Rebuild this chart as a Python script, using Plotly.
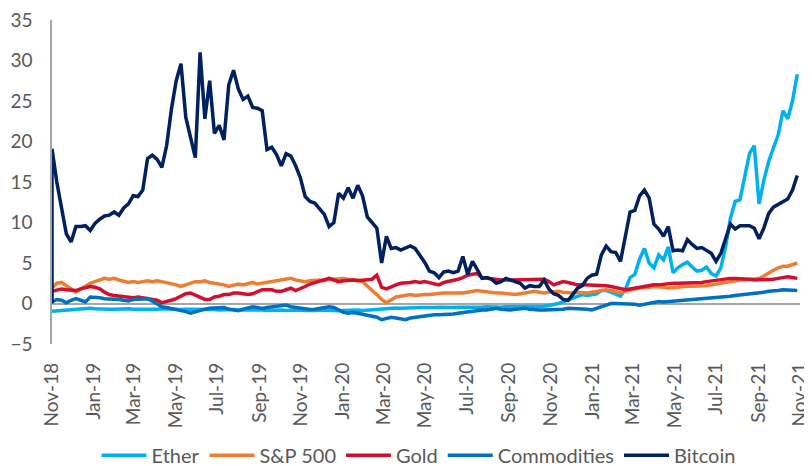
import pandas as pd
import plotly.graph_objects as go

# Weekly observations, Nov 2018 - Oct 2021 (157 weeks)
dates = pd.date_range("2018-11-01", periods=157, freq="7D")

ether = [
    -0.95, -0.9, -0.9, -0.85, -0.85, -0.8, -0.7, -0.6, -0.6, -0.65,
    -0.7, -0.75, -0.7, -0.7, -0.65, -0.6, -0.65, -0.7, -0.75, -0.7,
    -0.7, -0.75, -0.7, -0.65, -0.7, -0.75, -0.8, -0.75, -0.7, -0.7,
    -0.75, -0.7, -0.65, -0.7, -0.75, -0.8, -0.75, -0.7, -0.75, -0.8,
    -0.8, -0.75, -0.7, -0.75, -0.8, -0.85, -0.8, -0.75, -0.8, -0.85,
    -0.8, -0.75, -0.8, -0.85, -0.9, -0.85, -0.8, -0.85, -0.9, -0.95,
    -0.9, -0.85, -0.8, -0.75, -0.8, -0.85, -0.8, -0.75, -0.7, -0.65,
    -0.6, -0.55, -0.55, -0.6, -0.55, -0.5, -0.55, -0.5, -0.5, -0.55,
    -0.5, -0.45, -0.5, -0.55, -0.5, -0.45, -0.5, -0.45, -0.45, -0.5,
    -0.45, -0.4, -0.45, -0.4, -0.45, -0.4, -0.4, -0.45, -0.4, -0.4,
    -0.4, -0.4, -0.4, -0.35, -0.25, -0.15, 0.0, 0.2, 0.4, 0.6,
    0.9, 1.1, 1.0, 1.1, 1.2, 1.6, 1.6, 1.4, 1.1, 0.9,
    1.7, 3.2, 3.6, 5.5, 6.8, 5.0, 4.4, 6.0, 5.4, 7.0,
    3.8, 4.4, 4.8, 5.1, 4.5, 4.0, 4.1, 4.5, 3.7, 3.4,
    4.4, 7.0, 10.5, 12.6, 12.8, 15.5, 18.5, 19.5, 12.3, 15.2,
    17.5, 19.2, 20.8, 23.8, 22.8, 25.0, 28.3,
]

sp500 = [
    1.9, 2.5, 2.6, 2.2, 1.9, 1.4, 1.8, 2.2, 2.5, 2.7,
    2.9, 3.1, 3.0, 3.1, 2.9, 2.8, 2.6, 2.7, 2.6, 2.7,
    2.8, 2.7, 2.8, 2.7, 2.6, 2.4, 2.3, 2.1, 2.3, 2.6,
    2.7, 2.7, 2.8, 2.6, 2.5, 2.5, 2.3, 2.1, 2.2, 2.4,
    2.3, 2.5, 2.6, 2.4, 2.5, 2.5, 2.6, 2.7, 2.9, 3.0,
    3.1, 2.9, 2.8, 2.7, 2.8, 2.9, 2.9, 2.8, 3.0, 3.0,
    3.1, 3.1, 3.0, 3.0, 2.9, 2.7, 2.1, 1.6, 1.1, 0.5,
    0.1, 0.4, 0.8, 0.9, 1.0, 1.1, 1.0, 1.1, 1.1, 1.1,
    1.2, 1.2, 1.3, 1.3, 1.3, 1.2, 1.3, 1.4, 1.5, 1.6,
    1.5, 1.4, 1.3, 1.3, 1.3, 1.2, 1.2, 1.1, 1.2, 1.3,
    1.4, 1.5, 1.4, 1.3, 1.4, 1.5, 1.5, 1.4, 1.3, 1.3,
    1.4, 1.3, 1.3, 1.4, 1.5, 1.6, 1.7, 1.6, 1.4, 1.3,
    1.5, 1.7, 1.8, 1.9, 1.9, 2.0, 2.1, 2.1, 2.0, 1.9,
    1.9, 2.0, 2.1, 2.1, 2.1, 2.2, 2.2, 2.2, 2.3, 2.4,
    2.5, 2.7, 2.8, 2.8, 2.9, 2.9, 3.0, 3.0, 3.1, 3.4,
    3.8, 4.1, 4.4, 4.6, 4.6, 4.8, 5.0,
]

gold = [
    1.5, 1.7, 1.8, 1.7, 1.7, 1.6, 1.8, 1.9, 2.1, 2.0,
    1.8, 1.4, 1.1, 1.0, 0.9, 0.9, 0.8, 0.7, 0.8, 0.7,
    0.7, 0.5, 0.4, 0.1, 0.2, 0.4, 0.6, 0.9, 1.2, 1.3,
    1.0, 0.7, 0.5, 0.5, 0.8, 0.9, 1.1, 1.1, 1.3, 1.3,
    1.2, 1.1, 1.2, 1.5, 1.7, 1.7, 1.7, 1.5, 1.5, 1.7,
    1.9, 1.6, 1.8, 2.1, 2.4, 2.6, 2.8, 3.0, 3.1, 2.9,
    2.7, 2.8, 2.9, 2.9, 2.8, 2.9, 2.9, 3.0, 3.5, 2.0,
    1.8, 2.1, 2.3, 2.5, 2.5, 2.6, 2.7, 2.6, 2.7, 2.6,
    2.4, 2.3, 2.6, 2.7, 2.8, 3.0, 3.2, 3.5, 3.6, 3.7,
    3.2, 3.1, 3.0, 2.9, 2.9, 2.9, 2.9, 3.0, 2.9, 2.9,
    3.0, 2.9, 2.9, 3.0, 2.7, 2.3, 2.5, 2.7, 2.6, 2.4,
    2.3, 2.3, 2.3, 2.3, 2.3, 2.2, 2.2, 2.1, 2.0, 1.8,
    1.7, 1.8, 1.9, 2.1, 2.1, 2.2, 2.3, 2.3, 2.4, 2.4,
    2.5, 2.5, 2.5, 2.5, 2.5, 2.6, 2.6, 2.7, 2.8, 2.9,
    3.0, 3.1, 3.1, 3.1, 3.1, 3.0, 3.0, 2.9, 2.9, 3.0,
    3.0, 3.0, 3.1, 3.2, 3.3, 3.2, 3.1,
]

commodities = [
    0.2, 0.5, 0.4, 0.1, 0.4, 0.6, 0.4, 0.2, 0.8, 0.8,
    0.7, 0.6, 0.6, 0.5, 0.5, 0.4, 0.3, 0.5, 0.5, 0.5,
    0.6, 0.3, 0.0, -0.4, -0.5, -0.6, -0.8, -0.8, -1.0, -1.2,
    -1.0, -0.8, -0.7, -0.6, -0.6, -0.5, -0.5, -0.7, -0.8, -0.9,
    -0.7, -0.6, -0.4, -0.5, -0.6, -0.5, -0.4, -0.4, -0.3, -0.2,
    -0.4, -0.5, -0.6, -0.7, -0.75, -0.7, -0.6, -0.5, -0.4, -0.5,
    -0.8, -1.1, -1.2, -1.1, -1.2, -1.3, -1.4, -1.6, -1.7, -2.0,
    -1.8, -1.7, -1.8, -1.9, -2.0, -1.8, -1.7, -1.6, -1.5, -1.4,
    -1.4, -1.4, -1.4, -1.3, -1.3, -1.2, -1.1, -1.0, -1.0, -0.9,
    -0.8, -0.8, -0.7, -0.6, -0.7, -0.8, -0.8, -0.7, -0.6, -0.6,
    -0.7, -0.8, -0.8, -0.8, -0.8, -0.8, -0.8, -0.7, -0.6, -0.6,
    -0.6, -0.6, -0.7, -0.8, -0.6, -0.4, -0.2, 0.0, 0.0, 0.0,
    0.0, 0.0, -0.1, -0.2, -0.1, 0.0, 0.1, 0.25, 0.2, 0.25,
    0.25, 0.3, 0.3, 0.4, 0.45, 0.5, 0.55, 0.65, 0.7, 0.75,
    0.8, 0.85, 0.9, 1.0, 1.05, 1.1, 1.2, 1.3, 1.3, 1.4,
    1.5, 1.5, 1.6, 1.7, 1.7, 1.6, 1.6,
]

# Bitcoin series begins at 0 on the first date, then jumps
bitcoin_start = 0.0
bitcoin = [
    19.1, 15.0, 12.0, 8.6, 7.6, 9.5, 9.5, 9.6, 9.0, 9.9,
    10.4, 10.8, 10.9, 11.3, 10.9, 11.8, 12.3, 13.3, 13.2, 14.0,
    17.9, 18.3, 17.8, 16.8, 19.5, 24.0, 27.5, 29.6, 23.0, 20.5,
    18.0, 31.0, 22.8, 27.5, 21.0, 22.0, 20.2, 27.0, 28.8, 26.5,
    25.2, 25.6, 24.2, 24.1, 23.8, 19.0, 19.3, 18.4, 17.0, 18.5,
    18.2, 17.0, 15.5, 13.2, 12.6, 12.4, 11.7, 11.0, 9.5, 10.0,
    13.6, 13.0, 14.3, 13.0, 14.6, 13.3, 10.7, 10.0, 9.3, 5.0,
    8.3, 6.8, 6.9, 6.6, 6.8, 7.1, 6.8, 5.9, 5.1, 4.0,
    3.8, 3.2, 3.9, 4.0, 3.8, 4.0, 5.8, 3.6, 5.2, 4.2,
    3.1, 3.2, 3.0, 2.5, 2.7, 3.1, 2.9, 2.7, 2.5, 1.9,
    2.2, 2.1, 2.1, 2.9, 1.8, 1.2, 1.0, 0.5, 0.4, 1.1,
    1.9, 2.2, 3.1, 3.5, 3.6, 6.0, 7.1, 6.4, 6.3, 5.2,
    8.5, 11.3, 11.5, 13.3, 14.0, 13.0, 9.8, 9.2, 8.3, 9.5,
    6.5, 6.6, 6.5, 7.9, 7.3, 6.8, 6.9, 6.5, 6.2, 5.2,
    6.2, 8.0, 9.8, 9.2, 9.6, 9.6, 9.6, 9.3, 8.0, 9.3,
    11.1, 11.9, 12.2, 12.6, 12.9, 14.0, 15.8,
]

series_names = ["Ether", "S&P 500", "Gold", "Commodities", "Bitcoin"]
series_colors = ["#00B0F0", "#ED7D31", "#D0102E", "#0070C0", "#002060"]

x_all = list(dates)
series_x = [x_all, x_all, x_all, x_all, [x_all[0]] + x_all]
series_y = [ether, sp500, gold, commodities, [bitcoin_start] + bitcoin]

fig = go.Figure()
for name, color, xs, ys in zip(series_names, series_colors, series_x, series_y):
    fig.add_trace(go.Scatter(
        x=xs, y=ys, name=name, mode="lines",
        line=dict(color=color, width=3.5),
    ))

font_family = "Lato, 'Open Sans', sans-serif"
text_color = "#595959"

# The page body adds an 8px offset, so the figure is sized 8px smaller
fig.update_layout(
    width=804, height=458,
    margin=dict(l=44, r=12, t=12, b=122, autoexpand=False),
    paper_bgcolor="white", plot_bgcolor="white",
    font=dict(family=font_family, size=19, color=text_color),
    showlegend=True,
    legend=dict(
        orientation="h", x=0.49, xanchor="center", y=-0.343, yanchor="middle",
        font=dict(size=20, color=text_color), itemwidth=45,
        tracegroupgap=0,
    ),
)

fig.update_xaxes(
    type="date", automargin=False,
    range=["2018-11-01", "2021-11-01"],
    tick0="2018-11-01", dtick="M2", tickformat="%b-%y",
    tickangle=-90, showgrid=False, zeroline=False, showline=False,
    ticks="", ticklabelstandoff=14, ticklabeloverflow="allow",
    tickfont=dict(size=19, color=text_color),
)
fig.update_yaxes(
    range=[-5, 35], dtick=5, showgrid=False, automargin=False,
    zeroline=True, zerolinecolor="#A6A6A6", zerolinewidth=2,
    showline=True, linecolor="#A6A6A6", linewidth=1.5,
    ticks="", ticklabelstandoff=14, ticklabeloverflow="allow",
    tickfont=dict(size=19, color=text_color),
)

fig.write_html("out.html")
